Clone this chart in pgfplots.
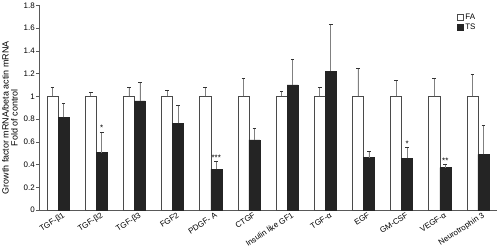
\documentclass[border=0pt]{standalone}
\usepackage{pgfplots}
\pgfplotsset{compat=1.18}
\usepackage{fontspec}
\setmainfont{Liberation Sans}
\definecolor{tsfill}{HTML}{242424}
\definecolor{fadraw}{HTML}{4A4A4A}
\begin{document}
\begin{tikzpicture}
\path[use as bounding box] (-39bp,-42bp) rectangle (463bp,210bp);
\begin{axis}[
  at={(0,0)}, anchor=south west,
  scale only axis, width=458bp, height=204.7bp,
  xmin=-0.5, xmax=11.5, ymin=0, ymax=1.8,
  ybar=0pt, bar width=0.29,
  axis x line*=bottom, axis y line*=left,
  axis line style={gray!70!black, line width=0.5pt},
  xtick={0,...,11},
  xticklabels={TGF-β1,TGF-β2,TGF-β3,FGF2,PDGF- A,CTGF,Insulin like GF1,TGF-α,EGF,GM-CSF,VEGF-α,Neurotrophin 3},
  x tick style={draw=none},
  xticklabel style={rotate=33, anchor=north east, font=\fontsize{8}{9}\selectfont, inner sep=1bp, xshift=5bp},
  ytick={0,0.2,0.4,0.6,0.8,1,1.2,1.4,1.6,1.8},
  yticklabels={0,0.2,0.4,0.6,0.8,1,1.2,1.4,1.6,1.8},
  y tick style={gray!70!black, line width=0.5pt},
  tick align=outside, major tick length=3bp,
  yticklabel style={font=\fontsize{8}{9}\selectfont, inner sep=1bp},
  ylabel={Growth factor mRNA/beta actin mRNA\\Fold of control},
  ylabel style={align=center, font=\fontsize{9}{9}\selectfont, at={(axis description cs:-0.045,0.45)}, anchor=south, rotate=0, inner sep=0.5bp},
  legend style={at={(0.913,0.965)}, anchor=north west, draw=none, fill=none, font=\fontsize{8}{9}\selectfont, row sep=0pt, inner sep=0pt, nodes={inner sep=1.5bp}},
  legend cell align=left,
  legend image code/.code={\draw[#1] (0bp,-3bp) rectangle (6bp,3bp);},
  error bars/y dir=plus, error bars/y explicit,
  error bars/error bar style={gray, line width=0.6pt},
  error bars/error mark options={rotate=90, mark size=1.8bp, black!80, line width=0.6pt},
]
\addplot[draw=fadraw, fill=white, line width=0.5pt] coordinates {
 (0,1) +- (0,0.075)
 (1,1) +- (0,0.035)
 (2,1) +- (0,0.075)
 (3,1) +- (0,0.053)
 (4,1) +- (0,0.080)
 (5,1) +- (0,0.155)
 (6,1) +- (0,0.047)
 (7,1) +- (0,0.075)
 (8,1) +- (0,0.243)
 (9,1) +- (0,0.140)
 (10,1) +- (0,0.155)
 (11,1) +- (0,0.190)
};
\addplot[draw=tsfill, fill=tsfill, line width=0.5pt] coordinates {
 (0,0.815) +- (0,0.120)
 (1,0.505) +- (0,0.180)
 (2,0.960) +- (0,0.160)
 (3,0.762) +- (0,0.160)
 (4,0.358) +- (0,0.070)
 (5,0.616) +- (0,0.100)
 (6,1.100) +- (0,0.225)
 (7,1.222) +- (0,0.410)
 (8,0.460) +- (0,0.056)
 (9,0.454) +- (0,0.097)
 (10,0.372) +- (0,0.033)
 (11,0.490) +- (0,0.255)
};
\legend{FA,TS}
\node[anchor=south, inner sep=0pt, font=\fontsize{8}{9}\selectfont] at (axis cs:1.145,0.70) {*};
\node[anchor=south, inner sep=0pt, font=\fontsize{8}{9}\selectfont] at (axis cs:4.145,0.435) {***};
\node[anchor=south, inner sep=0pt, font=\fontsize{8}{9}\selectfont] at (axis cs:9.145,0.56) {*};
\node[anchor=south, inner sep=0pt, font=\fontsize{8}{9}\selectfont] at (axis cs:10.145,0.41) {**};
\end{axis}
\end{tikzpicture}
\end{document}
